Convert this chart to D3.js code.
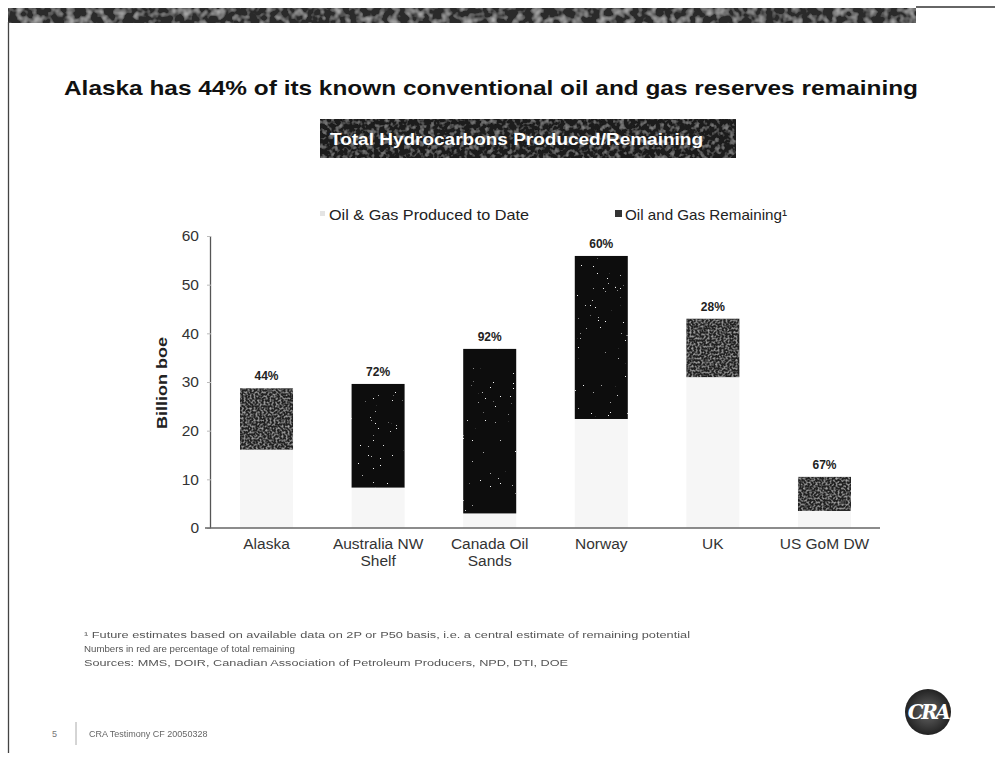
<!DOCTYPE html>
<html>
<head>
<meta charset="utf-8">
<script src="https://cdn.jsdelivr.net/npm/d3@7"></script>
<style>
  html, body { margin: 0; padding: 0; background: #fff; }
  svg { display: block; font-family: "Liberation Sans", Arial, sans-serif; }
</style>
</head>
<body>
<svg id="page" width="995" height="760"></svg>
<script>
// Hydrocarbon volumes, billion boe
const categories = ["Alaska", "Australia NW Shelf", "Canada Oil Sands", "Norway", "UK", "US GoM DW"];
const categoryLines = [["Alaska"], ["Australia NW", "Shelf"], ["Canada Oil", "Sands"], ["Norway"], ["UK"], ["US GoM DW"]];
const produced = [16.1, 8.3, 3.0, 22.4, 31.0, 3.5];
const remaining = [12.6, 21.3, 33.8, 33.5, 12.0, 7.0];
const remainingPct = ["44%", "72%", "92%", "60%", "28%", "67%"];
const yTicks = [0, 10, 20, 30, 40, 50, 60];
const seriesNames = ["Oil & Gas Produced to Date", "Oil and Gas Remaining\u00b9"];
const footnotes = [
  "\u00b9 Future estimates based on available data on 2P or P50 basis, i.e. a central estimate of remaining potential",
  "Numbers in red are percentage of total remaining",
  "Sources: MMS, DOIR, Canadian Association of Petroleum Producers, NPD, DTI, DOE"
];

const svg = d3.select("#page");
const defs = svg.append("defs");

// print-grain textures for the dark fills
function grainFilter(id, freq, seed, slope, offset, tone) {
  const f = defs.append("filter").attr("id", id)
    .attr("x", 0).attr("y", 0).attr("width", "100%").attr("height", "100%");
  f.append("feTurbulence").attr("type", "fractalNoise")
    .attr("baseFrequency", freq).attr("numOctaves", 2).attr("seed", seed).attr("result", "n");
  f.append("feColorMatrix").attr("in", "n").attr("type", "matrix")
    .attr("values", `0 0 0 0 ${tone}  0 0 0 0 ${tone}  0 0 0 0 ${tone}  0 0 0 ${slope} ${offset}`)
    .attr("result", "speck");
  f.append("feComposite").attr("in", "speck").attr("in2", "SourceGraphic")
    .attr("operator", "in").attr("result", "s2");
  const m = f.append("feMerge");
  m.append("feMergeNode").attr("in", "SourceGraphic");
  m.append("feMergeNode").attr("in", "s2");
}
grainFilter("grainSparse", 0.6, 4, 30, -23.5, 0.95);
grainFilter("grainDense", 0.5, 7, 2.0, -0.9, 0.5);
grainFilter("grainBand", 0.12, 2, 1.8, -0.8, 0.5);
grainFilter("grainBox", 0.2, 5, 1.5, -0.72, 0.4);
defs.append("filter").attr("id", "soft").append("feGaussianBlur").attr("stdDeviation", 0.5);

// page frame and header band
svg.append("rect").attr("x", 8).attr("y", 8).attr("width", 908).attr("height", 15)
  .attr("fill", "#2a2a2a").attr("filter", "url(#grainBand)");
svg.append("line").attr("x1", 916).attr("x2", 995).attr("y1", 7).attr("y2", 7)
  .attr("stroke", "#333").attr("stroke-width", 1.5);
svg.append("line").attr("x1", 8.5).attr("x2", 8.5).attr("y1", 22).attr("y2", 753)
  .attr("stroke", "#444").attr("stroke-width", 1.3);

// headline
svg.append("text").attr("x", 64).attr("y", 95)
  .attr("font-size", 21).attr("font-weight", "bold").attr("fill", "#111")
  .attr("textLength", 854).attr("lengthAdjust", "spacingAndGlyphs")
  .text("Alaska has 44% of its known conventional oil and gas reserves remaining");

// chart title box
svg.append("rect").attr("x", 320).attr("y", 119).attr("width", 416).attr("height", 39)
  .attr("fill", "#1a1a1a").attr("filter", "url(#grainBox)");
svg.append("text").attr("x", 330).attr("y", 145)
  .attr("font-size", 17).attr("font-weight", "bold").attr("fill", "#fff")
  .attr("textLength", 373).attr("lengthAdjust", "spacingAndGlyphs")
  .text("Total Hydrocarbons Produced/Remaining");

// scales
const x = d3.scaleBand().domain(categories).range([211, 880]).paddingInner(0.525).paddingOuter(0.26);
const y = d3.scaleLinear().domain([0, 60]).range([528, 236]);

const rows = categories.map((c, i) => ({
  cat: c, lines: categoryLines[i], produced: produced[i], remaining: remaining[i], pct: remainingPct[i]
}));
const stack = d3.stack().keys(["produced", "remaining"])(rows);

// legend
const legend = svg.append("g").attr("font-size", 14.5).attr("fill", "#222");
legend.append("rect").attr("x", 320).attr("y", 211).attr("width", 5).attr("height", 5).attr("fill", "#e4e4e4");
legend.append("text").attr("x", 329).attr("y", 220)
  .attr("textLength", 200).attr("lengthAdjust", "spacingAndGlyphs").text(seriesNames[0]);
legend.append("rect").attr("x", 615).attr("y", 210).attr("width", 7).attr("height", 7).attr("fill", "#333");
legend.append("text").attr("x", 625).attr("y", 220)
  .attr("textLength", 162).attr("lengthAdjust", "spacingAndGlyphs").text(seriesNames[1]);

// stacked bars: produced (pale) under remaining (dark)
const fills = ["#f6f6f6", "#0c0c0c"];
const denseBars = new Set(["Alaska", "UK", "US GoM DW"]);
stack.forEach((layer, li) => {
  svg.append("g").selectAll("rect").data(layer).join("rect")
    .attr("x", d => x(d.data.cat))
    .attr("width", x.bandwidth())
    .attr("y", d => y(d[1]))
    .attr("height", d => y(d[0]) - y(d[1]))
    .attr("fill", d => li === 1 && denseBars.has(d.data.cat) ? "#222" : fills[li])
    .attr("filter", d => li === 1 ? (denseBars.has(d.data.cat) ? "url(#grainDense)" : "url(#grainSparse)") : null);
});

// percentage remaining above each bar
svg.append("g").selectAll("text").data(stack[1]).join("text")
  .attr("x", d => x(d.data.cat) + x.bandwidth() / 2)
  .attr("y", d => y(d[1]) - 8)
  .attr("text-anchor", "middle").attr("font-size", 12).attr("font-weight", "bold").attr("fill", "#222")
  .text(d => d.data.pct);

// y axis
const yAxis = svg.append("g").attr("transform", "translate(211,0)")
  .call(d3.axisLeft(y).tickValues(yTicks).tickSize(4).tickPadding(8).tickFormat(d3.format("d")));
yAxis.select(".domain").attr("stroke", "#555").attr("stroke-width", 1.3).attr("d", "M-0.5,236V528");
yAxis.selectAll(".tick line").attr("stroke", "#bbb");
yAxis.selectAll(".tick text").attr("font-size", 15.5).attr("fill", "#333")
  .attr("font-family", "Liberation Sans, Arial, sans-serif");

svg.append("text").attr("transform", "translate(167,383) rotate(-90)")
  .attr("text-anchor", "middle").attr("font-size", 15).attr("font-weight", "bold").attr("fill", "#222")
  .attr("textLength", 92).attr("lengthAdjust", "spacingAndGlyphs")
  .text("Billion boe");

// x axis baseline and category labels
svg.append("line").attr("x1", 205).attr("x2", 880).attr("y1", y(0)).attr("y2", y(0))
  .attr("stroke", "#666").attr("stroke-width", 1.5);
const xl = svg.append("g").selectAll("text").data(rows).join("text")
  .attr("x", d => x(d.cat) + x.bandwidth() / 2)
  .attr("y", 549)
  .attr("text-anchor", "middle").attr("font-size", 15.5).attr("fill", "#333");
xl.selectAll("tspan").data(d => d.lines).join("tspan")
  .attr("x", function () { return d3.select(this.parentNode).attr("x"); })
  .attr("dy", (d, i) => i === 0 ? 0 : 17)
  .text(d => d);

// footnotes
const noteWidths = [606, 211, 484];
svg.append("g").attr("filter", "url(#soft)").selectAll("text").data(footnotes).join("text")
  .attr("x", 84).attr("y", (d, i) => 638 + i * 14)
  .attr("font-size", 8.5).attr("fill", "#555")
  .attr("textLength", (d, i) => noteWidths[i]).attr("lengthAdjust", "spacingAndGlyphs")
  .text(d => d);

// footer
svg.append("text").attr("x", 52).attr("y", 737).attr("font-size", 9).attr("fill", "#777").text("5");
svg.append("line").attr("x1", 76).attr("x2", 76).attr("y1", 722).attr("y2", 745)
  .attr("stroke", "#aaa").attr("stroke-width", 1);
svg.append("text").attr("x", 89).attr("y", 737).attr("font-size", 9).attr("fill", "#666")
  .attr("filter", "url(#soft)").text("CRA Testimony CF 20050328");

// logo
const grad = defs.append("radialGradient").attr("id", "logoGrad");
grad.append("stop").attr("offset", "0%").attr("stop-color", "#666");
grad.append("stop").attr("offset", "100%").attr("stop-color", "#222");
svg.append("circle").attr("cx", 928).attr("cy", 712).attr("r", 23).attr("fill", "url(#logoGrad)");
svg.append("text").attr("x", 928).attr("y", 719).attr("text-anchor", "middle")
  .attr("font-family", "DejaVu Serif, serif").attr("font-style", "italic").attr("font-weight", "bold")
  .attr("font-size", 20).attr("fill", "#fff").attr("letter-spacing", -2.5).text("CRA");
</script>
</body>
</html>
